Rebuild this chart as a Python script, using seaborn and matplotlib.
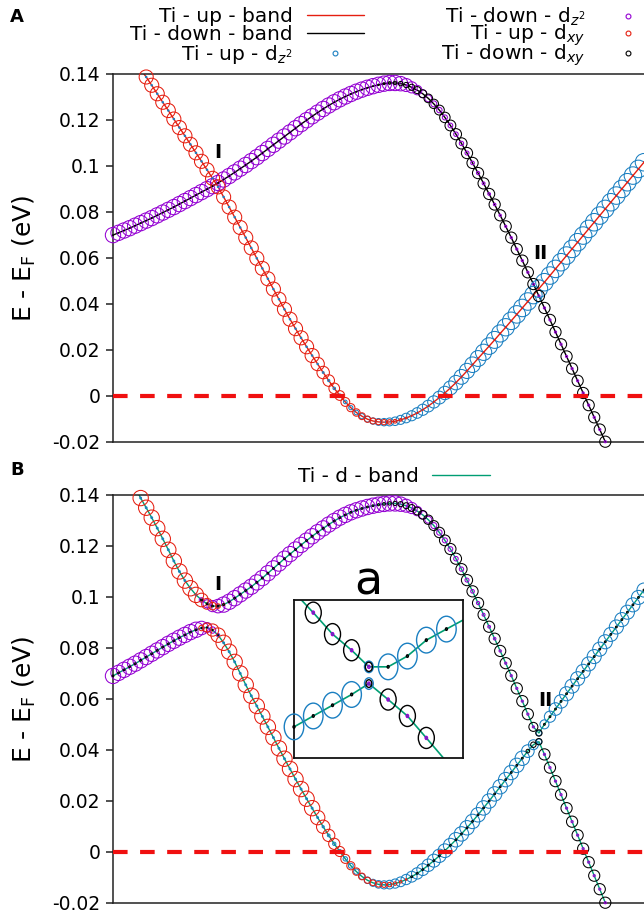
import numpy as np
import pandas as pd
import matplotlib
matplotlib.use("Agg")
import matplotlib.pyplot as plt
from matplotlib.lines import Line2D
from matplotlib.path import Path
from matplotlib.transforms import Affine2D
import seaborn as sns

sns.set_style("ticks")
plt.rcParams["font.family"] = ["DejaVu Sans"]
plt.rcParams["mathtext.fontset"] = "dejavusans"
plt.rcParams["text.color"] = "black"
plt.rcParams["axes.labelcolor"] = "black"

# k-point index along the path
kpt = np.arange(97)

# ---------------- (A) spin-polarised bands, E - E_F (eV) ----------------
up_band_A = [
    0.160, 0.157, 0.153, 0.150, 0.146, 0.142, 0.1387, 0.1351, 0.1314, 0.1277,
    0.1241, 0.1204, 0.1167, 0.1131, 0.1094, 0.1057, 0.1020, 0.0983, 0.0946, 0.0909,
    0.0865, 0.0821, 0.0777, 0.0732, 0.0688, 0.0643, 0.0598, 0.0554, 0.0509, 0.0464,
    0.0420, 0.0376, 0.0333, 0.0292, 0.0252, 0.0213, 0.0175, 0.0138, 0.0101, 0.0066,
    0.0032, 0.0001, -0.0027, -0.0052, -0.0073, -0.0089, -0.0102, -0.0110, -0.0114, -0.0115,
    -0.0114, -0.0111, -0.0105, -0.0097, -0.0087, -0.0075, -0.0061, -0.0045, -0.0027, -0.0008,
    0.0012, 0.0034, 0.0057, 0.0082, 0.0108, 0.0135, 0.0162, 0.0189, 0.0216, 0.0243,
    0.0271, 0.0298, 0.0326, 0.0354, 0.0382, 0.0410, 0.0438, 0.0466, 0.0494, 0.0523,
    0.0552, 0.0581, 0.0610, 0.0639, 0.0668, 0.0697, 0.0726, 0.0755, 0.0784, 0.0813,
    0.0842, 0.0871, 0.0900, 0.0929, 0.0958, 0.0987, 0.1016]

down_band_A = [
    0.0699, 0.0709, 0.0719, 0.0729, 0.0740, 0.0751, 0.0762, 0.0773, 0.0785, 0.0797,
    0.0809, 0.0821, 0.0834, 0.0847, 0.0860, 0.0873, 0.0886, 0.0899, 0.0912, 0.0926,
    0.0941, 0.0956, 0.0972, 0.0988, 0.1004, 0.1021, 0.1038, 0.1056, 0.1074, 0.1092,
    0.1110, 0.1128, 0.1146, 0.1164, 0.1182, 0.1199, 0.1216, 0.1232, 0.1248, 0.1263,
    0.1277, 0.1290, 0.1302, 0.1313, 0.1323, 0.1332, 0.1340, 0.1347, 0.1353, 0.1358,
    0.1361, 0.1361, 0.1358, 0.1352, 0.1342, 0.1330, 0.1314, 0.1294, 0.1270, 0.1243,
    0.1211, 0.1176, 0.1138, 0.1098, 0.1056, 0.1013, 0.0969, 0.0924, 0.0878, 0.0832,
    0.0785, 0.0737, 0.0688, 0.0638, 0.0588, 0.0537, 0.0486, 0.0434, 0.0382, 0.0330,
    0.0277, 0.0224, 0.0171, 0.0118, 0.0065, 0.0012, -0.0041, -0.0094, -0.0147, -0.0200,
    -0.0253, -0.0306, -0.0359, -0.0412, -0.0465, -0.0518, -0.0571]

# orbital weights (marker diameter) on each spin channel
up_dxy_A = ([0.78] * 37 +
            [0.74, 0.69, 0.64, 0.59, 0.54, 0.49, 0.45, 0.41, 0.38, 0.35,
             0.33, 0.31, 0.29, 0.25, 0.20, 0.15, 0.10, 0.07] +
            [0.06] * 42)
up_dz2_A = ([0.08] * 38 +
            [0.10, 0.12, 0.14, 0.17, 0.20, 0.23, 0.26, 0.29, 0.32, 0.35,
             0.38, 0.41, 0.44, 0.47, 0.50, 0.53, 0.56, 0.59, 0.62, 0.65,
             0.68, 0.71, 0.74, 0.77, 0.80, 0.82, 0.84, 0.86, 0.88, 0.90,
             0.92, 0.94, 0.95, 0.96] +
            [0.97] * 25)
down_dz2_A = ([0.85] * 52 +
              [0.80, 0.72, 0.62, 0.52, 0.44, 0.38, 0.33, 0.30, 0.28, 0.26,
               0.25, 0.24, 0.22, 0.20, 0.18, 0.16, 0.15, 0.14, 0.13] +
              [0.12] * 26)
down_dxy_A = ([0.05] * 48 +
              [0.08, 0.11, 0.15, 0.19, 0.24, 0.29, 0.34, 0.39, 0.44, 0.48,
               0.52, 0.55, 0.58, 0.60] +
              [0.62] * 35)

# ---------------- (B) bands with spin-orbit coupling ----------------
lower_band_B = [
    0.0690, 0.0702, 0.0714, 0.0726, 0.0738, 0.0751, 0.0764, 0.0777, 0.0790, 0.0803,
    0.0816, 0.0828, 0.0840, 0.0851, 0.0862, 0.0871, 0.0878, 0.0880, 0.0870, 0.0850,
    0.0820, 0.0785, 0.0745, 0.0700, 0.0655, 0.0612, 0.0572, 0.0531, 0.0490, 0.0448,
    0.0406, 0.0365, 0.0325, 0.0285, 0.0246, 0.0208, 0.0171, 0.0134, 0.0098, 0.0064,
    0.0031, 0.0001, -0.0028, -0.0055, -0.0078, -0.0097, -0.0112, -0.0122, -0.0128, -0.0130,
    -0.0129, -0.0125, -0.0118, -0.0109, -0.0098, -0.0085, -0.0070, -0.0053, -0.0035, -0.0016,
    0.0004, 0.0025, 0.0047, 0.0070, 0.0094, 0.0119, 0.0145, 0.0172, 0.0199, 0.0227,
    0.0255, 0.0283, 0.0311, 0.0339, 0.0367, 0.0395, 0.0420, 0.0432, 0.0382, 0.0330,
    0.0277, 0.0224, 0.0171, 0.0118, 0.0065, 0.0012, -0.0041, -0.0094, -0.0147, -0.0200,
    -0.0253, -0.0306, -0.0359, -0.0412, -0.0465, -0.0518, -0.0571]

upper_band_B = [
    0.160, 0.156, 0.151, 0.147, 0.143, 0.1388, 0.1350, 0.1311, 0.1270, 0.1228,
    0.1185, 0.1141, 0.1100, 0.1064, 0.1034, 0.1008, 0.0988, 0.0973, 0.0964, 0.0964,
    0.0970, 0.0981, 0.0995, 0.1010, 0.1025, 0.1040, 0.1057, 0.1074, 0.1093, 0.1112,
    0.1131, 0.1150, 0.1168, 0.1186, 0.1204, 0.1221, 0.1238, 0.1254, 0.1269, 0.1284,
    0.1298, 0.1311, 0.1322, 0.1332, 0.1340, 0.1347, 0.1353, 0.1358, 0.1362, 0.1365,
    0.1367, 0.1367, 0.1364, 0.1358, 0.1349, 0.1337, 0.1322, 0.1303, 0.1280, 0.1253,
    0.1222, 0.1188, 0.1150, 0.1109, 0.1066, 0.1022, 0.0976, 0.0930, 0.0883, 0.0836,
    0.0788, 0.0740, 0.0691, 0.0641, 0.0591, 0.0540, 0.0490, 0.0466, 0.0500, 0.0530,
    0.0560, 0.0590, 0.0620, 0.0650, 0.0679, 0.0708, 0.0737, 0.0766, 0.0795, 0.0824,
    0.0853, 0.0882, 0.0911, 0.0940, 0.0969, 0.0998, 0.1027]

dz2_down_lower_B = [0.85] * 16 + [0.75, 0.55, 0.35, 0.18] + [0.0] * 58 + [0.12] * 19
dxy_up_lower_B = ([0.0] * 16 + [0.30, 0.50, 0.68, 0.80] + [0.85] * 17 +
                  [0.80, 0.74, 0.68, 0.62, 0.56, 0.50, 0.45, 0.41, 0.37, 0.34,
                   0.32, 0.30, 0.28, 0.24, 0.19, 0.14, 0.09] +
                  [0.0] * 43)
dz2_up_lower_B = ([0.0] * 16 + [0.10] * 22 +
                  [0.12, 0.15, 0.18, 0.21, 0.24, 0.27, 0.30, 0.33, 0.36, 0.39,
                   0.42, 0.45, 0.48, 0.51, 0.54, 0.57, 0.60, 0.63, 0.66, 0.69,
                   0.72, 0.74, 0.76, 0.78, 0.80] +
                  [0.80] * 12 + [0.70, 0.55, 0.30] + [0.0] * 19)
dxy_down_lower_B = ([0.10] * 16 + [0.05] * 4 + [0.0] * 34 + [0.10] * 21 +
                    [0.20, 0.30, 0.35] + [0.62] * 19)

dxy_up_upper_B = [0.85] * 16 + [0.75, 0.60, 0.42, 0.25, 0.12] + [0.0] * 76
dz2_down_upper_B = ([0.0] * 16 + [0.25, 0.45, 0.62, 0.75] + [0.85] * 32 +
                    [0.80, 0.72, 0.62, 0.52, 0.44, 0.38, 0.33, 0.30, 0.28, 0.26,
                     0.25, 0.24, 0.22, 0.20, 0.18, 0.16, 0.15, 0.14, 0.13] +
                    [0.12] * 6 + [0.0] * 20)
dz2_up_upper_B = [0.10] * 16 + [0.0] * 61 + [0.30, 0.50, 0.62, 0.70, 0.75] + [0.78] * 15
dxy_down_upper_B = ([0.0] * 16 + [0.10] * 32 +
                    [0.12, 0.15, 0.19, 0.23, 0.28, 0.33, 0.38, 0.43, 0.48, 0.52,
                     0.55, 0.58, 0.60] +
                    [0.62] * 15 + [0.50, 0.35] + [0.10] * 19)

# ---------------- inset (a): close-up of crossing II ----------------
inset_u_upper = [0.0, 0.114, 0.228, 0.341, 0.443, 0.557, 0.671, 0.783, 0.902, 1.0]
inset_v_upper = [1.05, 0.920, 0.784, 0.682, 0.577, 0.577, 0.645, 0.746, 0.816, 0.873]
inset_dxy_upper = [0.0, 0.82, 0.82, 0.82, 0.36, 0.10, 0.10, 0.10, 0.10, 0.0]
inset_dz2_upper = [0.0, 0.0, 0.0, 0.0, 0.45, 1.0, 1.0, 1.0, 1.0, 0.0]
inset_dot_upper = [0.0, 0.12, 0.12, 0.12, 0.12, 0.0, 0.0, 0.0, 0.0, 0.0]

inset_u_lower = [0.0, 0.114, 0.228, 0.341, 0.443, 0.557, 0.671, 0.783, 0.90]
inset_v_lower = [0.197, 0.266, 0.334, 0.402, 0.471, 0.370, 0.266, 0.127, -0.02]
inset_dxy_lower = [0.10, 0.10, 0.10, 0.10, 0.30, 0.82, 0.82, 0.82, 0.0]
inset_dz2_lower = [1.0, 1.0, 1.0, 1.0, 0.45, 0.0, 0.0, 0.0, 0.0]
inset_dot_lower = [0.0, 0.0, 0.0, 0.0, 0.12, 0.12, 0.12, 0.12, 0.0]

# axis ticks
ytick_vals = [-0.02, 0.0, 0.02, 0.04, 0.06, 0.08, 0.10, 0.12, 0.14]
ytick_labels = ["-0.02", "0", "0.02", "0.04", "0.06", "0.08", "0.1", "0.12", "0.14"]

RED = "#e51e10"
PURPLE = "#9400d3"
BLUE = "#1a7fc1"
BLACK = "#000000"
TEAL = "#009e73"
ZERO_RED = "#f01010"
YMIN, YMAX = -0.02, 0.14
UNIT_PT = 13.0          # marker diameter (pt) for unit weight
INSET_UNIT_PT = 18.5
ELLIPSE = Path.unit_circle().transformed(Affine2D().scale(0.76, 1.0))


def orbital_marks(ax, x, E, w, color, unit_pt=UNIT_PT, marker="o", lw=0.75,
                  lo=YMIN - 1e-4, hi=YMAX + 1e-4):
    df = pd.DataFrame({"x": x, "E": E, "w": w})
    df = df[(df["w"] > 0) & (df["E"] >= lo) & (df["E"] <= hi)].copy()
    if df.empty:
        return
    df["area"] = df["w"] ** 2
    sns.scatterplot(data=df, x="x", y="E", size="area", sizes=(0, unit_pt ** 2),
                    size_norm=(0, 1), marker=marker, color=color,
                    facecolor="none", edgecolor=color, linewidth=lw,
                    legend=False, clip_on=False, zorder=3, ax=ax)


def band_line(ax, x, E, color, lw=1.0):
    sns.lineplot(x=x, y=E, sort=False, estimator=None, color=color, lw=lw,
                 zorder=2, ax=ax)


fig = plt.figure(figsize=(6.44, 9.13), dpi=100)
fig.patch.set_facecolor("white")
axA = fig.add_axes([113 / 644, 1 - 441.7 / 913, 531 / 644, (441.7 - 74) / 913])
axB = fig.add_axes([113 / 644, 1 - 902.7 / 913, 531 / 644, (902.7 - 495) / 913])

for ax in (axA, axB):
    ax.set_xlim(0, 96)
    ax.set_ylim(YMIN, YMAX)
    ax.set_xticks([])
    ax.set_yticks(ytick_vals)
    ax.set_yticklabels(ytick_labels)
    ax.tick_params(axis="y", direction="out", length=5, width=1.1,
                   labelsize=13.5, pad=4, color="#222222", labelcolor="black")
    for s in ("left", "top", "bottom"):
        ax.spines[s].set_linewidth(1.1)
        ax.spines[s].set_color("#222222")
    ax.spines["right"].set_visible(False)
    ax.set_xlabel("")
    ax.axhline(0, color=ZERO_RED, lw=3, dashes=(3.5, 3), zorder=4)

# ---- panel A ----
band_line(axA, kpt, up_band_A, RED)
band_line(axA, kpt, down_band_A, BLACK)
orbital_marks(axA, kpt, down_band_A, down_dz2_A, PURPLE)
orbital_marks(axA, kpt, up_band_A, up_dz2_A, BLUE)
orbital_marks(axA, kpt, up_band_A, up_dxy_A, RED)
orbital_marks(axA, kpt, down_band_A, down_dxy_A, BLACK)
axA.text(19.0, 0.106, "I", fontsize=14, fontweight="bold", ha="center", va="center")
axA.text(77.2, 0.062, "II", fontsize=14, fontweight="bold", ha="center", va="center")

# ---- panel B ----
band_line(axB, kpt, lower_band_B, TEAL)
band_line(axB, kpt, upper_band_B, TEAL)
for E, wz_d, wz_u, wx_u, wx_d in (
        (lower_band_B, dz2_down_lower_B, dz2_up_lower_B, dxy_up_lower_B, dxy_down_lower_B),
        (upper_band_B, dz2_down_upper_B, dz2_up_upper_B, dxy_up_upper_B, dxy_down_upper_B)):
    orbital_marks(axB, kpt, E, wz_d, PURPLE)
    orbital_marks(axB, kpt, E, wz_u, BLUE)
    orbital_marks(axB, kpt, E, wx_u, RED)
    orbital_marks(axB, kpt, E, wx_d, BLACK)
axB.text(19.0, 0.1047, "I", fontsize=14, fontweight="bold", ha="center", va="center")
axB.text(78.1, 0.0595, "II", fontsize=14, fontweight="bold", ha="center", va="center")

for ax in (axA, axB):
    ax.set_ylabel("E - E$_\\mathrm{F}$ (eV)", fontsize=18)
    ax.yaxis.set_label_coords(-0.142, 0.5)

# ---- inset (a) ----
axI = fig.add_axes([294 / 644, 1 - 758 / 913, 169 / 644, 158 / 913])
axI.set_xlim(0, 1)
axI.set_ylim(0, 1)
axI.set_xticks([])
axI.set_yticks([])
for s in axI.spines.values():
    s.set_visible(True)
    s.set_linewidth(1.3)
    s.set_color("#111111")
band_line(axI, inset_u_upper, inset_v_upper, TEAL, lw=1.2)
band_line(axI, inset_u_lower, inset_v_lower, TEAL, lw=1.2)
for u, v, wz, wx, wd in ((inset_u_upper, inset_v_upper, inset_dz2_upper, inset_dxy_upper, inset_dot_upper),
                         (inset_u_lower, inset_v_lower, inset_dz2_lower, inset_dxy_lower, inset_dot_lower)):
    orbital_marks(axI, u, v, wz, BLUE, unit_pt=INSET_UNIT_PT, marker=ELLIPSE, lw=1.0, lo=-0.01, hi=1.01)
    orbital_marks(axI, u, v, wx, BLACK, unit_pt=INSET_UNIT_PT, marker=ELLIPSE, lw=1.0, lo=-0.01, hi=1.01)
    orbital_marks(axI, u, v, wd, PURPLE, unit_pt=INSET_UNIT_PT, marker=ELLIPSE, lw=1.0, lo=-0.01, hi=1.01)
fig.text(368 / 644, 1 - 582 / 913, "a", fontsize=33, ha="center", va="center")

# ---- legends ----
def ring(color):
    return Line2D([], [], ls="none", marker="o", mfc="none", mec=color, ms=3.5, mew=0.8)


legend_kw = dict(bbox_transform=fig.transFigure, frameon=False, markerfirst=False,
                 fontsize=14.5, handlelength=2.85, handletextpad=0.7,
                 borderpad=0, borderaxespad=0)
legA1 = axA.legend([Line2D([], [], color=RED, lw=1), Line2D([], [], color=BLACK, lw=1), ring(BLUE)],
                   ["Ti - up - band", "Ti - down - band", "Ti - up - d$_{z^2}$"],
                   loc="upper left", bbox_to_anchor=(130 / 644, 1 - 7 / 913),
                   labelspacing=-0.05, **legend_kw)
axA.add_artist(legA1)
axA.legend([ring(PURPLE), ring(RED), ring(BLACK)],
           ["Ti - down - d$_{z^2}$", "Ti - up - d$_{xy}$", "Ti - down - d$_{xy}$"],
           loc="upper right", bbox_to_anchor=(657 / 644, 1 - 6 / 913),
           labelspacing=-0.27, **legend_kw)

axB.legend([Line2D([], [], color=TEAL, lw=1)], ["Ti - d - band"], loc="upper left",
           bbox_to_anchor=(298 / 644, 1 - 467 / 913), bbox_transform=fig.transFigure,
           frameon=False, markerfirst=False, fontsize=14.5, handlelength=2.9,
           handletextpad=0.65, borderpad=0, borderaxespad=0)

fig.text(17 / 644, 1 - 17 / 913, "A", fontsize=13, fontweight="bold", ha="center", va="center")
fig.text(17 / 644, 1 - 470 / 913, "B", fontsize=13, fontweight="bold", ha="center", va="center")

fig.savefig("out.png", dpi=100, facecolor="white")
